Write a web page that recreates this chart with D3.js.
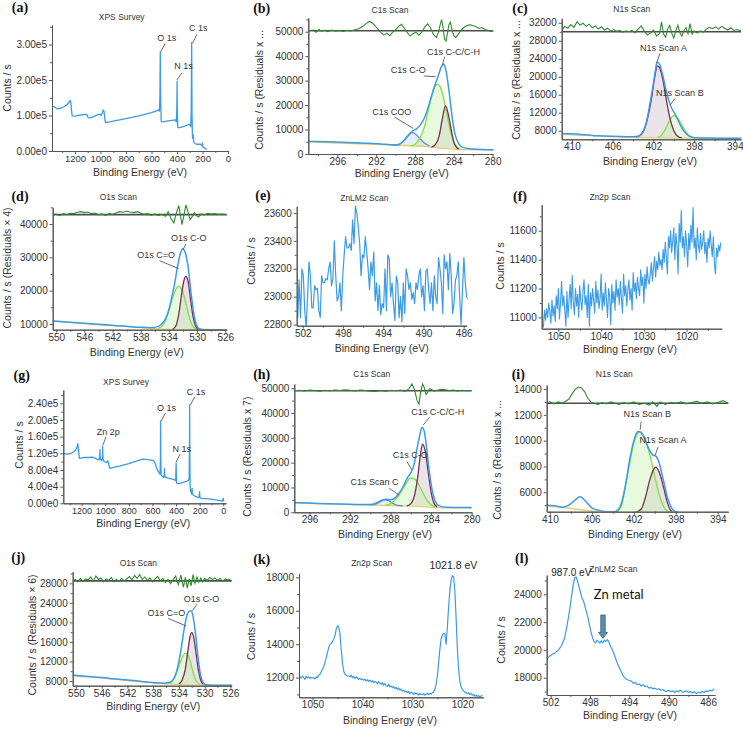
<!DOCTYPE html>
<html>
<head>
<meta charset="utf-8">
<script src="https://cdn.jsdelivr.net/npm/d3@7/dist/d3.min.js"></script>
<style>
body { margin: 0; background: #fff; }
</style>
</head>
<body>
<svg id="fig" width="743" height="729"></svg>
<script>
// ---- survey spectra [binding energy, counts] ----
var surveyA = [[1380,126000],[1360,124000],[1340,119000],[1320,120000],[1300,122000],[1280,126000],[1260,131000],[1245,138000],[1238,143000],[1232,136000],[1228,118000],[1222,99000],[1200,98000],[1180,100000],[1150,102000],[1120,103000],[1105,102000],[1098,95000],[1085,93000],[1060,96000],[1030,101000],[1005,104000],[995,100000],[985,108000],[978,116000],[972,112000],[965,88000],[960,80000],[900,84000],[800,91000],[700,99000],[600,108000],[560,113000],[545,116000],[538,112000],[534,150000],[531,280000],[528,150000],[524,84000],[515,82000],[480,84000],[440,86000],[415,88000],[405,82000],[401,120000],[399,197000],[397,110000],[394,66000],[380,66000],[340,70000],[310,74000],[300,75000],[292,68000],[288,120000],[285,305000],[282,100000],[279,44000],[276,35000],[272,45000],[268,25000],[255,20000],[240,19000],[215,19000],[205,15000],[200,22000],[196,10000],[185,9000],[175,6000],[165,5000]];

var surveyG = [[1355,120000],[1330,118000],[1300,119000],[1270,123000],[1250,128000],[1238,136000],[1232,143000],[1226,125000],[1218,108000],[1200,109000],[1170,110000],[1140,110000],[1110,111000],[1090,109000],[1070,106000],[1052,104000],[1047,112000],[1045,129000],[1043,112000],[1038,104000],[1030,103000],[1024,108000],[1022,138000],[1020,112000],[1015,102000],[1005,100000],[990,98000],[978,102000],[972,97000],[966,88000],[958,84000],[920,87000],[880,89000],[840,92000],[800,95000],[760,99000],[720,103000],[680,106000],[640,105000],[600,103000],[590,102000],[575,95000],[565,85000],[550,76000],[540,72000],[535,70000],[532,120000],[531,198000],[529,110000],[526,68000],[515,64000],[505,62000],[500,70000],[498,84000],[496,66000],[490,62000],[460,60000],[430,58000],[410,56000],[403,54000],[401,80000],[399,97000],[397,60000],[394,48000],[380,47000],[340,50000],[310,53000],[295,55000],[289,60000],[286,150000],[285,236000],[283,110000],[281,40000],[275,28000],[268,22000],[264,36000],[262,25000],[255,20000],[240,17000],[220,15000],[205,14000],[201,28000],[198,14000],[190,12000],[150,11000],[100,10000],[60,8000],[20,6000],[8,5000],[3,10000],[0,12000],[-3,5000]];

// ---- C1s (b) ----
var bEnv = [[299,5200],[297,5000],[295,4700],[293,4400],[291.5,4100],[290.5,3800],[289.8,3700],[289.3,4800],[288.8,7200],[288.3,9300],[287.9,10200],[287.5,11600],[287,15000],[286.5,21000],[286,27500],[285.6,32000],[285.3,35500],[285.05,36800],[284.8,34000],[284.5,26000],[284.2,16000],[283.9,8500],[283.5,4200],[283,2600],[282,2000],[281,1800],[279.8,1700]];
var bBg = [[299,5000],[296,4500],[293,4100],[290,3600],[288,3300],[287,3100],[286,2700],[285,2300],[284,2000],[283,1800],[279.8,1700]];
var bCOO = [[290.3,3600],[289.5,4300],[289,6000],[288.6,7900],[288.3,8700],[288,8300],[287.5,6300],[287,4400],[286.5,3300]];
var bCO = [[288.5,3300],[288,4000],[287.5,6500],[287,11500],[286.6,18500],[286.2,25000],[285.7,28500],[285.3,26500],[284.9,20000],[284.5,12000],[284.1,5800],[283.7,3000],[283.3,2100]];
var bCC = [[286.3,2800],[285.9,3800],[285.5,7500],[285.2,14000],[284.85,19700],[284.5,15000],[284.2,8500],[283.9,3800],[283.5,2000]];
var bResid = [[299,0],[298.5,300],[298.2,-600],[297.9,500],[297.6,-300],[297.3,200],[297,-400],[296.6,300],[296.2,-200],[295.8,100],[295.4,-300],[295,200],[294.6,-100],[294.2,400],[293.8,800],[293.4,1800],[293,3000],[292.7,3800],[292.4,3200],[292.1,2000],[291.8,500],[291.5,-800],[291.2,-1800],[290.9,-1000],[290.6,-2000],[290.3,-600],[290,400],[289.7,1800],[289.4,2600],[289.1,1000],[288.8,-800],[288.5,-2200],[288.2,-1200],[287.9,-600],[287.6,-1800],[287.3,-600],[287,1500],[286.7,2800],[286.4,1200],[286.1,-1500],[285.8,-2800],[285.6,-800],[285.4,2500],[285.25,4600],[285.1,1000],[284.95,-3500],[284.8,-4200],[284.65,-1000],[284.5,2500],[284.35,3500],[284.2,600],[284,-2000],[283.8,-2800],[283.5,-1200],[283.2,400],[282.9,1500],[282.6,2200],[282.3,2400],[282,2000],[281.7,1600],[281.4,900],[281.1,1300],[280.8,500],[280.5,200],[280.2,-300],[279.8,0]];

// ---- N1s (c) ----
var cEnv = [[411,7400],[410,7350],[409,7150],[408,6950],[407,6850],[406,6750],[405,6700],[404,6650],[403.5,6750],[403,7800],[402.6,10800],[402.3,14500],[402,18500],[401.8,21500],[401.65,23200],[401.4,22800],[401.1,20500],[400.8,17500],[400.5,14800],[400.2,13000],[399.9,11800],[399.6,10500],[399.3,9000],[399,7900],[398.6,7000],[398.2,6550],[397.6,6400],[396,6350],[393.4,6300]];
var cBg = [[411,7200],[409,7000],[407,6800],[405,6600],[403.5,6500],[401,6400],[393.4,6300]];
var cA = [[403.7,6600],[403.3,7000],[403,7800],[402.6,10500],[402.2,15000],[401.9,19500],[401.6,22400],[401.3,21500],[401,18500],[400.7,14500],[400.4,11000],[400.1,8600],[399.8,7200],[399.5,6600],[399.2,6400]];
var cB = [[401.6,6450],[401.2,7000],[400.8,8400],[400.4,10300],[400.05,11330],[399.7,11000],[399.3,9700],[398.9,8000],[398.5,6900],[398.1,6400]];
var cResid = [[411,300],[410.7,1200],[410.4,800],[410.1,1600],[409.8,1000],[409.5,2200],[409.2,1500],[408.9,1900],[408.6,1200],[408.3,1700],[408,900],[407.7,1300],[407.4,600],[407.1,1100],[406.8,400],[406.5,800],[406.2,200],[405.9,500],[405.6,100],[405.3,300],[405,-100],[404.7,200],[404.4,0],[404.1,300],[403.8,-200],[403.5,600],[403.2,1300],[402.9,200],[402.6,-700],[402.3,-300],[402,400],[401.7,-900],[401.4,-400],[401.2,2200],[401,-500],[400.8,-1200],[400.6,600],[400.4,1400],[400.2,-300],[400,-1400],[399.8,200],[399.6,1500],[399.4,-200],[399.2,-1000],[399,300],[398.8,900],[398.6,-400],[398.4,1800],[398.2,-500],[398,200],[397.7,-300],[397.4,200],[397.1,-100],[396.8,600],[396.5,1000],[396.2,700],[395.9,1100],[395.6,600],[395.3,1200],[395,800],[394.7,400],[394.4,900],[394.1,300],[393.8,500],[393.4,200]];

// ---- O1s (d) ----
var dEnv = [[550.5,10900],[548,10500],[546,10200],[544,9900],[542,9600],[540,9300],[538,9000],[536.5,8900],[535.5,9300],[534.8,10500],[534.2,13000],[533.7,17000],[533.2,22000],[532.8,27000],[532.4,31000],[532.05,32600],[531.7,31500],[531.3,27500],[530.9,20000],[530.5,13500],[530.1,9800],[529.7,8600],[529.2,8350],[528,8300],[525.8,8300]];
var dBg = [[550.5,10800],[546,10100],[542,9500],[538,8900],[536,8600],[534,8400],[532,8300],[525.8,8300]];
var dCO = [[533.5,8400],[533,9500],[532.6,13000],[532.2,19000],[531.85,23200],[531.6,24300],[531.3,23000],[531,18500],[530.6,12500],[530.2,9300],[529.8,8400]];
var dCdO = [[535.5,8700],[535,9300],[534.5,11000],[534,14000],[533.5,17800],[533,20500],[532.6,21300],[532.2,20500],[531.8,18000],[531.4,14500],[531,11200],[530.5,9000],[530,8400]];
var dResid = [[550.5,0],[550,200],[549.5,-300],[549,300],[548.5,0],[548,400],[547.5,300],[547,700],[546.5,900],[546,600],[545.5,800],[545,300],[544.5,500],[544,0],[543.5,200],[543,-200],[542.5,300],[542,100],[541.5,500],[541,900],[540.5,700],[540,1100],[539.5,800],[539,600],[538.5,900],[538,400],[537.5,100],[537,300],[536.5,-200],[536,200],[535.5,-300],[535,100],[534.5,-500],[534.1,900],[533.7,-1200],[533.3,-2500],[532.95,500],[532.6,2700],[532.4,200],[532.15,-3000],[531.9,-500],[531.6,2900],[531.3,900],[531,-1500],[530.7,-600],[530.4,600],[530.1,-300],[529.8,-700],[529.4,200],[529,-100],[528.5,400],[528,200],[527.5,300],[527,100],[526.5,200],[525.8,0]];

// ---- ZnLM2 (e), Zn2p (f): evenly stepped scans ----
var eStart = 502.5, eStep = 0.14;
var eCounts = [22850,23120,22850,23200,23150,22900,22780,23000,23250,23150,22920,22920,23080,23050,23060,22900,22850,23150,23100,
  23100,23130,23120,23200,23250,23080,23130,23400,23150,22970,23000,23100,22900,23150,23300,23430,23350,
  23350,23380,23330,23550,23380,23650,23600,23500,23380,23150,23300,23280,23430,23320,23200,
  23050,23250,23150,23320,22970,23100,22900,23080,22870,22950,22920,23200,22900,23300,23270,23000,23100,22950,22830,23150,
  23100,22850,23000,22820,23100,22880,23200,23150,23050,23100,22980,23030,22950,23100,23050,23150,23200,23000,23080,22900,23180,23200,23050,22950,23100,
  22900,23150,23000,22950,23280,23200,23100,22880,23300,23200,23250,23050,23310,23150,22880,22950,23120,23150,23250,23000,22800,23050,23280,23100,23000,22980];

var fStart = 1053.5, fStep = 0.25;
var fCounts = [10930,11050,10980,11060,11000,11100,11040,10960,11120,11010,
  11080,10970,11150,11060,11200,10990,11100,11250,11080,11150,
  11050,10940,11180,11000,11120,11230,11060,11290,11100,11020,
  11200,11080,11160,11000,11220,11110,11050,11180,11260,11090,
  11150,11000,11230,10940,11170,11080,11200,11120,11030,11250,
  11100,11190,11060,11130,11300,11050,11170,11080,11240,11120,
  11000,11200,11150,10950,11230,11100,11180,11050,11260,11140,
  11200,11090,11250,11130,11030,11300,11150,11220,11080,11190,
  11260,11120,11200,11050,11310,11180,11240,11130,11280,11200,
  11150,11330,11220,11280,11100,11300,11200,11350,11260,11230,
  11300,11380,11250,11340,11420,11280,11390,11330,11450,11360,
  11400,11330,11470,11380,11520,11420,11300,11560,11480,11600,
  11450,11530,11620,11400,11580,11500,11300,11650,11520,11740,
  11480,11560,11420,11600,11500,11350,11580,11470,11640,11520,
  11760,11480,11550,11400,11620,11500,11450,11580,11470,11520,
  11600,11440,11520,11380,11550,11480,11600,11500,11420,11560,
  11370,11300,11480,11420,11500,11460,11520];

// ---- C1s (h) ----
var hEnv = [[297.5,3900],[296,3700],[294,3400],[292,3200],[290.5,3100],[289.8,3200],[289.3,4000],[288.8,5000],[288.4,5300],[288,5100],[287.6,5700],[287.2,7500],[286.8,10000],[286.4,13500],[286,16000],[285.7,19000],[285.4,25500],[285.1,31500],[284.9,34200],[284.7,33000],[284.45,26000],[284.2,17000],[283.9,9000],[283.6,4500],[283.2,2600],[282.5,2000],[281,1900],[280,1900]];
var hBg = [[297.5,3800],[294,3300],[291,3000],[289,2800],[287,2600],[285.5,2400],[284.5,2200],[283.5,1900],[282,1850],[280,1850]];
var hScanC = [[290,2950],[289.5,3300],[289,4300],[288.6,5000],[288.2,4700],[287.8,3700],[287.3,2800],[286.8,2550]];
var hCO = [[288.5,2800],[288,3500],[287.5,5200],[287,8000],[286.5,11500],[286,13800],[285.6,13300],[285.2,11000],[284.8,7800],[284.4,4800],[284,3000],[283.6,2200]];
var hCC = [[286.4,2600],[286,3500],[285.6,7500],[285.3,15000],[285.05,23500],[284.85,27500],[284.6,25000],[284.3,16500],[284,8000],[283.7,3500],[283.4,2200]];
var hResid = [[297.5,0],[297,200],[296.5,-100],[296,300],[295.5,100],[295,-200],[294.5,200],[294,0],[293.5,300],[293,100],[292.5,400],[292,200],[291.5,-100],[291,300],[290.5,100],[290,-200],[289.5,-300],[289,100],[288.5,-200],[288,200],[287.5,0],[287,300],[286.6,-300],[286.2,700],[285.9,2700],[285.65,600],[285.4,-3800],[285.2,-5400],[285.05,-800],[284.85,2700],[284.7,1500],[284.5,-1500],[284.35,-700],[284.15,800],[283.95,500],[283.7,-200],[283.3,300],[283,600],[282.6,400],[282.2,100],[281.8,300],[281.4,-100],[281,200],[280.5,0],[280,100]];

// ---- N1s (i) ----
var iEnv = [[410.3,5000],[409.5,4950],[408.8,4850],[408.2,5000],[407.6,5400],[407.1,5650],[406.6,5300],[406,4800],[405.3,4600],[404.5,4500],[403.7,4500],[403.2,5000],[402.8,6500],[402.4,8500],[402,10000],[401.6,10700],[401.3,10600],[401,10200],[400.6,9400],[400.2,8900],[399.9,8800],[399.6,8300],[399.2,7000],[398.8,5600],[398.4,4800],[398,4500],[397,4400],[395,4400],[393,4400]];
var iBg = [[410.3,4950],[409,4850],[408,4750],[407,4650],[406,4550],[405,4450],[404,4420],[402,4400],[393,4400]];
var iB = [[404,4420],[403.4,4800],[403,5800],[402.5,7800],[402,9800],[401.6,10600],[401.35,10700],[401,10300],[400.5,9000],[400,7200],[399.5,5600],[399,4700],[398.5,4420]];
var iA = [[402,4400],[401.3,4700],[400.9,5600],[400.5,6900],[400.1,7800],[399.9,7950],[399.6,7600],[399.2,6500],[398.8,5200],[398.4,4500],[398,4400]];
var iResid = [[410.3,0],[410,100],[409.6,-50],[409.2,100],[408.8,0],[408.5,150],[408.2,300],[407.9,700],[407.6,1050],[407.3,1250],[407,1200],[406.7,900],[406.4,400],[406.1,100],[405.8,0],[405.4,-100],[405,50],[404.6,-50],[404.2,100],[403.8,0],[403.4,-100],[403,50],[402.5,-50],[402,100],[401.5,-100],[401,0],[400.5,-150],[400.2,100],[399.8,-250],[399.5,100],[399,-100],[398.5,50],[398,0],[397.5,100],[397,-50],[396.5,50],[396,150],[395.5,0],[395,100],[394.5,-50],[394,50],[393.5,200],[393,0]];

// ---- O1s (j) ----
var jEnv = [[550.5,9200],[548,8900],[546,8700],[544,8450],[542,8200],[540,7950],[538,7700],[536.5,7550],[535.5,7700],[534.8,8500],[534.2,10800],[533.7,14200],[533.2,18500],[532.8,21200],[532.4,22300],[532.1,22400],[531.8,21200],[531.4,17500],[531,12500],[530.6,9000],[530.2,7600],[529.8,7250],[529,7150],[525.8,7150]];
var jBg = [[550.5,9000],[546,8600],[542,8100],[538,7600],[536,7450],[534,7300],[532,7200],[525.8,7150]];
var jCO = [[534,7400],[533.5,8200],[533,10500],[532.6,14200],[532.3,16900],[532,17900],[531.7,17000],[531.4,14300],[531,10500],[530.6,8100],[530.2,7300]];
var jCdO = [[535.5,7500],[535,8000],[534.5,9200],[534,11000],[533.5,12800],[533,13700],[532.6,13300],[532.2,11800],[531.8,9800],[531.3,8000],[530.8,7300]];
var jResid = [[550.5,0],[550.1,300],[549.7,-200],[549.3,500],[548.9,-100],[548.5,400],[548.1,200],[547.7,800],[547.3,-100],[546.9,1000],[546.5,300],[546.1,600],[545.7,-200],[545.3,400],[544.9,100],[544.5,700],[544.1,-200],[543.7,300],[543.3,-100],[542.9,500],[542.5,0],[542.1,400],[541.7,900],[541.3,200],[540.9,1100],[540.5,500],[540.1,1300],[539.7,300],[539.3,800],[538.9,100],[538.5,600],[538.1,-200],[537.7,400],[537.3,900],[536.9,0],[536.5,500],[536.1,-300],[535.7,300],[535.3,-600],[534.9,200],[534.5,1000],[534.1,-800],[533.7,1200],[533.3,-1300],[533,700],[532.7,-1500],[532.4,400],[532.1,-1000],[531.8,1300],[531.5,-500],[531.2,800],[530.9,-300],[530.6,600],[530.3,-200],[530,500],[529.6,100],[529.2,700],[528.8,300],[528.4,600],[528,100],[527.6,500],[527.2,-100],[526.8,400],[526.4,200],[526,300]];

// ---- Zn2p (k) ----
var kStart = 1052.75, kStep = 0.25;
var kCounts = [11950,12050,11980,12100,12000,11900,12080,11990,12050,11950,12020,11980,12000,11930,12050,12010,
  12150,12200,12350,12500,12650,12900,13200,13500,13800,14000,14050,14150,14300,14500,14900,15100,15050,14600,13700,12900,12400,12200,12150,12100,
  12100,12050,12150,12000,12080,11950,12050,11980,11900,11960,11880,11920,
  11850,11900,11800,11880,11780,11850,11750,11820,11700,11780,11720,11650,11760,11680,11600,11700,
  11550,11650,11520,11480,11600,11450,11500,11400,11480,11350,11420,11300,11380,11250,11320,11200,
  11250,11150,11200,11100,11180,11050,11120,11080,11000,11100,11020,11060,10950,11050,11000,10980,
  11050,10950,11000,11080,10980,11060,11000,11100,11150,11300,11600,12100,
  12900,13700,14300,14550,14650,14600,14000,15000,16200,17200,17800,18100,
  18050,17200,15600,13800,12500,11800,11450,11300,11200,11150,11100,11050,
  11100,11000,11050,10950,11000,10900,10950,10880,10920,10850,10900,10950];

// ---- ZnLM2 (l) ----
var lData = [[502.4,19350],[502.1,19550],[501.8,19700],[501.5,19800],[501.2,20000],[500.9,20300],[500.6,20800],[500.4,21500],[500.2,22300],[500,23200],[499.85,24000],[499.7,24700],[499.55,25200],[499.4,25250],[499.25,24900],[499.1,24500],[498.95,24100],[498.8,23700],[498.65,23500],[498.5,23100],[498.35,22700],[498.2,22300],[498.05,21800],[497.9,21300],[497.75,20900],[497.6,20600],[497.45,20500],[497.3,20700],[497.15,20600],[497,20500],[496.85,20650],[496.7,20500],[496.55,20700],[496.4,20600],[496.25,20750],[496.1,20600],[495.95,20300],[495.8,20100],[495.6,19800],[495.4,19400],[495.2,19000],[495,18700],[494.8,18400],[494.6,18100],[494.4,17950],[494.2,17850],[494,17800],[493.8,17750],[493.6,17600],[493.4,17650],[493.2,17500],[493,17550],[492.8,17400],[492.6,17500],[492.4,17350],[492.2,17400],[492,17250],[491.8,17300],[491.6,17200],[491.4,17250],[491.2,17150],[491,17200],[490.8,17100],[490.6,17150],[490.4,17050],[490.2,17000],[490,17100],[489.8,17000],[489.6,17050],[489.4,16950],[489.2,17050],[489,17000],[488.8,17100],[488.6,16950],[488.4,17000],[488.2,17050],[488,16950],[487.8,17000],[487.6,16900],[487.4,17000],[487.2,16850],[487,16950],[486.8,16900],[486.6,17000],[486.4,16950],[486.2,17050],[486,17000],[485.8,17100],[485.6,17050],[485.4,17200]];

var FONT = "'Liberation Sans', Arial, sans-serif";
var BLUE = "#3a9be8", RES = "#2f8a2f", BASE = "#4d4d4d", YEL = "#e3cf6e",
    GRN = "#86e04a", PUR = "#7b2d55", CBLUE = "#5b86d6",
    GRN_F = "rgba(190,240,160,0.35)", PUR_F = "rgba(160,130,160,0.22)", BLU_F = "rgba(140,170,230,0.2)";

function steps(start, step, vals) {
    return vals.map((v, i) => [start - step * i, v]);
}

var svg = d3.select("#fig");

function minorOf(ticks, dom) {
    var st = ticks[1] - ticks[0], lo = Math.min(dom[0], dom[1]), hi = Math.max(dom[0], dom[1]);
    var out = [];
    ticks.forEach(t => { [t - st / 2, t + st / 2].forEach(m => { if (m >= lo && m <= hi && out.indexOf(m) < 0) out.push(m); }); });
    return out;
}

function styleAxis(a, size) {
    a.attr("font-family", FONT).attr("font-size", size);
    a.selectAll(".domain").attr("stroke", "#555");
    a.selectAll(".tick line").attr("stroke", "#555");
    a.selectAll(".tick text").attr("fill", "#333");
}

function drawPanel(p) {
    var b = p.box;
    var x = d3.scaleLinear().domain(p.xDomain).range([b[0], b[2]]);
    var y = d3.scaleLinear().domain(p.yDomain).range([b[3], b[1]]);
    var g = svg.append("g");

    svg.append("clipPath").attr("id", "clip" + p.key)
        .append("rect").attr("x", b[0]).attr("y", b[1] - 6)
        .attr("width", b[2] - b[0] + 1).attr("height", b[3] - b[1] + 6);
    var plot = g.append("g").attr("clip-path", "url(#clip" + p.key + ")");

    var smooth = d3.line().x(d => x(d[0])).y(d => y(d[1])).curve(d3.curveMonotoneX);
    var raw = d3.line().x(d => x(d[0])).y(d => y(d[1]));

    (p.fills || []).forEach(f => {
        plot.append("path").attr("d", smooth(f.data) + "Z").attr("fill", f.color).attr("stroke", "none");
    });
    (p.lines || []).forEach(l => {
        plot.append("path").attr("d", (l.raw ? raw : smooth)(l.data))
            .attr("fill", "none").attr("stroke", l.color).attr("stroke-width", l.w || 1.2)
            .attr("stroke-linejoin", "round");
    });
    if (p.resid) {
        plot.append("line").attr("x1", b[0]).attr("x2", b[2])
            .attr("y1", y(p.resid.base)).attr("y2", y(p.resid.base))
            .attr("stroke", BASE).attr("stroke-width", 1.6);
        plot.append("path").attr("d", raw(p.resid.data.map(d => [d[0], p.resid.base + d[1]])))
            .attr("fill", "none").attr("stroke", RES).attr("stroke-width", 1.1);
    }

    // axes
    var xm = g.append("g").attr("transform", "translate(0," + b[3] + ")")
        .call(d3.axisBottom(x).tickValues(minorOf(p.xTicks, p.xDomain)).tickSize(2).tickSizeOuter(0).tickFormat(""));
    var ym = g.append("g").attr("transform", "translate(" + b[0] + ",0)")
        .call(d3.axisLeft(y).tickValues(minorOf(p.yTicks, p.yDomain)).tickSize(2).tickSizeOuter(0).tickFormat(""));
    var xa = g.append("g").attr("transform", "translate(0," + b[3] + ")")
        .call(d3.axisBottom(x).tickValues(p.xTicks).tickSize(3).tickSizeOuter(0).tickPadding(1).tickFormat(d3.format("d")));
    var yf = p.exp ? (v => d3.format(".2e")(v).replace("e+", "e")) : d3.format("d");
    var ya = g.append("g").attr("transform", "translate(" + b[0] + ",0)")
        .call(d3.axisLeft(y).tickValues(p.yTicks).tickSize(3).tickSizeOuter(0).tickPadding(2).tickFormat(yf));
    styleAxis(xm, 10); styleAxis(ym, 10);
    styleAxis(xa, p.xFont || 10); styleAxis(ya, 10);

    // texts
    g.append("text").attr("x", p.lp[0]).attr("y", p.lp[1]).attr("text-anchor", "middle")
        .style("font-family", "'Liberation Serif', 'Times New Roman', serif").style("font-weight", "bold")
        .style("font-size", "14px").attr("fill", "#111").text(p.letter);
    g.append("text").attr("x", p.tp[0]).attr("y", p.tp[1]).attr("text-anchor", "middle")
        .attr("dominant-baseline", "middle").style("font-family", FONT).style("font-size", "8.5px")
        .attr("fill", "#333").text(p.title);
    g.append("text").attr("transform", "translate(" + p.ylp[0] + "," + p.ylp[1] + ") rotate(-90)")
        .attr("text-anchor", "middle").attr("dominant-baseline", "middle")
        .style("font-family", FONT).style("font-size", "10.5px").attr("fill", "#333").text(p.yLabel);
    g.append("text").attr("x", p.xlp[0]).attr("y", p.xlp[1]).attr("text-anchor", "middle")
        .attr("dominant-baseline", "middle").style("font-family", FONT).style("font-size", "10.5px")
        .attr("fill", "#333").text("Binding Energy (eV)");

    (p.notes || []).forEach(n => {
        if (n.line) {
            g.append("line").attr("x1", x(n.line[0][0])).attr("y1", y(n.line[0][1]))
                .attr("x2", x(n.line[1][0])).attr("y2", y(n.line[1][1]))
                .attr("stroke", "#444").attr("stroke-width", 0.8);
        }
        g.append("text").attr("x", x(n.x)).attr("y", y(n.y)).attr("text-anchor", "middle")
            .attr("dominant-baseline", "middle").style("font-family", n.font || FONT)
            .style("font-size", (n.size || 9) + "px").attr("fill", n.color || "#333").text(n.t);
    });
    if (p.arrow) {
        var a = p.arrow, ax = x(a.x), y1 = y(a.from), y2 = y(a.to);
        var pts = [[ax - 2.2, y1], [ax + 2.2, y1], [ax + 2.2, y2 - 6], [ax + 4.5, y2 - 6], [ax, y2], [ax - 4.5, y2 - 6], [ax - 2.2, y2 - 6]];
        g.append("polygon").attr("points", pts.map(q => q.join(",")).join(" "))
            .attr("fill", "#5a8fb3").attr("stroke", "#2e5d7d").attr("stroke-width", 0.8);
    }
}

var RESX = "Counts / s  (Residuals x ...";
var panels = [
    { key: "a", letter: "(a)", lp: [20, 12], box: [52, 25, 228, 151], xDomain: [1380, 0], yDomain: [0, 355000],
      xTicks: [1200, 1000, 800, 600, 400, 200, 0], yTicks: [0, 100000, 200000, 300000], exp: true, xFont: 9.5,
      title: "XPS Survey", tp: [121.7, 17.3], yLabel: "Counts / s", ylp: [8, 88], xlp: [140, 173],
      lines: [{ data: surveyA, color: BLUE, w: 1.3, raw: true }],
      notes: [{ t: "O 1s", x: 480, y: 318000, line: [[527, 280000], [493, 303000]] },
              { t: "C 1s", x: 233, y: 344000, line: [[278, 303000], [244, 329000]] },
              { t: "N 1s", x: 349, y: 237000, line: [[401, 200000], [362, 220000]] }] },
    { key: "b", letter: "(b)", lp: [261.7, 13], box: [308.3, 18, 492.6, 154], xDomain: [299, 280], yDomain: [0, 55600],
      xTicks: [296, 292, 288, 284, 280], yTicks: [0, 10000, 20000, 30000, 40000, 50000],
      title: "C1s Scan", tp: [390, 10.7], yLabel: RESX, ylp: [260, 90], xlp: [401.7, 174],
      fills: [{ data: bCC, color: PUR_F }, { data: bCO, color: GRN_F }, { data: bCOO, color: BLU_F }],
      lines: [{ data: bBg, color: YEL, w: 1.4 }, { data: bCOO, color: CBLUE }, { data: bCO, color: GRN, w: 1.4 },
              { data: bCC, color: PUR, w: 1.3 }, { data: bEnv, color: BLUE, w: 1.5 }],
      resid: { base: 50400, data: bResid },
      notes: [{ t: "C1s C-C/C-H", x: 284.03, y: 41600, line: [[285.18, 36400], [284.94, 39800]] },
              { t: "C1s C-O", x: 288.7, y: 33900, line: [[287.1, 31900], [285.87, 31600]] },
              { t: "C1s COO", x: 290.4, y: 17000, line: [[290.1, 15100], [288.2, 10500]] }] },
    { key: "c", letter: "(c)", lp: [520, 13], box: [561.7, 18.3, 741, 139.3], xDomain: [411, 393.4], yDomain: [6090, 33000],
      xTicks: [410, 406, 402, 398, 394], yTicks: [8000, 12000, 16000, 20000, 24000, 28000, 32000],
      title: "N1s Scan", tp: [631.7, 9.3], yLabel: RESX, ylp: [517.7, 80], xlp: [650, 162.3],
      fills: [{ data: cA, color: PUR_F }, { data: cB, color: GRN_F }],
      lines: [{ data: cBg, color: YEL, w: 1.4 }, { data: cB, color: GRN, w: 1.4 }, { data: cA, color: PUR, w: 1.3 },
              { data: cEnv, color: BLUE, w: 1.5 }],
      resid: { base: 30000, data: cResid },
      notes: [{ t: "N1s Scan A", x: 401.0, y: 26300, line: [[401.35, 25200], [401.67, 23200]] },
              { t: "N1s Scan B", x: 399.4, y: 16150, line: [[399.87, 15200], [400.36, 13700]] }] },
    { key: "d", letter: "(d)", lp: [20, 201], box: [52.7, 207.3, 226.7, 329.7], xDomain: [550.5, 525.8], yDomain: [8290, 45000],
      xTicks: [550, 546, 542, 538, 534, 530, 526], yTicks: [10000, 20000, 30000, 40000],
      title: "O1s Scan", tp: [118.3, 198], yLabel: "Counts / s  (Residuals × 4)", ylp: [8.3, 268], xlp: [136.7, 353],
      fills: [{ data: dCO, color: PUR_F }, { data: dCdO, color: GRN_F }],
      lines: [{ data: dBg, color: YEL, w: 1.4 }, { data: dCdO, color: GRN, w: 1.4 }, { data: dCO, color: PUR, w: 1.3 },
              { data: dEnv, color: BLUE, w: 1.5 }],
      resid: { base: 42800, data: dResid },
      notes: [{ t: "O1s C-O", x: 531.2, y: 35500, line: [[532.0, 32300], [531.58, 34000]] },
              { t: "O1s C=O", x: 535.8, y: 30600, line: [[535.33, 29000], [532.63, 26600]] }] },
    { key: "e", letter: "(e)", lp: [263, 200], box: [296.7, 206.3, 466.7, 325.7], xDomain: [502.6, 485.7], yDomain: [22792, 23648],
      xTicks: [502, 498, 494, 490, 486], yTicks: [22800, 23000, 23200, 23400, 23600],
      title: "ZnLM2 Scan", tp: [364.3, 198.7], yLabel: "Counts / s", ylp: [252.3, 261], xlp: [381.7, 349.7],
      lines: [{ data: steps(eStart, eStep, eCounts), color: BLUE, w: 1.2, raw: true }] },
    { key: "f", letter: "(f)", lp: [520, 201], box: [541.7, 204.7, 721.7, 328.7], xDomain: [1053.9, 1011.8], yDomain: [10922, 11780],
      xTicks: [1050, 1040, 1030, 1020], yTicks: [11000, 11200, 11400, 11600],
      title: "Zn2p Scan", tp: [610, 198], yLabel: "Counts / s", ylp: [501, 266], xlp: [630, 350.7],
      lines: [{ data: steps(fStart, fStep, fCounts), color: BLUE, w: 1.1, raw: true }] },
    { key: "g", letter: "(g)", lp: [21.7, 380], box: [63.3, 390, 226, 503.3], xDomain: [1355, -23], yDomain: [0, 272000],
      xTicks: [1200, 1000, 800, 600, 400, 200, 0], yTicks: [0, 40000, 80000, 120000, 160000, 200000, 240000], exp: true, xFont: 9,
      title: "XPS Survey", tp: [126, 382.7], yLabel: "Counts / s", ylp: [20, 445], xlp: [143.3, 524],
      lines: [{ data: surveyG, color: BLUE, w: 1.3, raw: true }],
      notes: [{ t: "C 1s", x: 231, y: 266000, line: [[278, 236000], [242, 256000]] },
              { t: "O 1s", x: 480, y: 228000, line: [[525, 197500], [491, 216700]] },
              { t: "Zn 2p", x: 975, y: 169000, line: [[1019, 140000], [994, 159000]] },
              { t: "N 1s", x: 352, y: 129600, line: [[399, 99000], [367, 118000]] }] },
    { key: "h", letter: "(h)", lp: [261.7, 379], box: [294.3, 384, 471.7, 512.3], xDomain: [297.5, 280], yDomain: [0, 51700],
      xTicks: [296, 292, 288, 284, 280], yTicks: [0, 10000, 20000, 30000, 40000, 50000],
      title: "C1s Scan", tp: [371.7, 375], yLabel: "Counts / s  (Residuals x 7)", ylp: [248.3, 456.7], xlp: [385, 535],
      fills: [{ data: hCC, color: PUR_F }, { data: hCO, color: GRN_F }, { data: hScanC, color: BLU_F }],
      lines: [{ data: hBg, color: YEL, w: 1.4 }, { data: hScanC, color: CBLUE }, { data: hCO, color: GRN, w: 1.4 },
              { data: hCC, color: PUR, w: 1.3 }, { data: hEnv, color: BLUE, w: 1.5 }],
      resid: { base: 49000, data: hResid },
      notes: [{ t: "C1s C-C/C-H", x: 283.34, y: 40300, line: [[284.14, 38300], [284.78, 35200]] },
              { t: "C1s C-O", x: 286.07, y: 22800, line: [[286.38, 20400], [285.9, 17100]] },
              { t: "C1s Scan C", x: 289.59, y: 12100, line: [[288.14, 9700], [287.18, 7000]] }] },
    { key: "i", letter: "(i)", lp: [518.3, 379], box: [546.7, 385, 728.3, 511.7], xDomain: [410.3, 393], yDomain: [4496, 14310],
      xTicks: [410, 406, 402, 398, 394], yTicks: [6000, 8000, 10000, 12000, 14000],
      title: "N1s Scan", tp: [614.3, 375], yLabel: RESX, ylp: [498, 460], xlp: [635, 535],
      fills: [{ data: iA, color: PUR_F }, { data: iB, color: GRN_F }],
      lines: [{ data: iBg, color: YEL, w: 1.4 }, { data: iB, color: GRN, w: 1.4 }, { data: iA, color: PUR, w: 1.3 },
              { data: iEnv, color: BLUE, w: 1.5 }],
      resid: { base: 12900, data: iResid },
      notes: [{ t: "N1s Scan B", x: 400.72, y: 11990, line: [[401.3, 11470], [401.4, 10830]] },
              { t: "N1s Scan A", x: 399.23, y: 10000, line: [[399.7, 9490], [399.96, 8890]] }] },
    { key: "j", letter: "(j)", lp: [18.3, 561.5], box: [72.7, 571.7, 231.7, 685.7], xDomain: [550.5, 525.8], yDomain: [7036, 30380],
      xTicks: [550, 546, 542, 538, 534, 530, 526], yTicks: [8000, 12000, 16000, 20000, 24000, 28000],
      title: "O1s Scan", tp: [138.3, 564], yLabel: "Counts / s  (Residuals × 6)", ylp: [33.3, 635], xlp: [153.3, 707.5],
      fills: [{ data: jCO, color: PUR_F }, { data: jCdO, color: GRN_F }],
      lines: [{ data: jBg, color: YEL, w: 1.4 }, { data: jCdO, color: GRN, w: 1.4 }, { data: jCO, color: PUR, w: 1.3 },
              { data: jEnv, color: BLUE, w: 1.5 }],
      resid: { base: 28500, data: jResid },
      notes: [{ t: "O1s C-O", x: 530.5, y: 24700, line: [[531.19, 23750], [531.9, 22380]] },
              { t: "O1s C=O", x: 535.94, y: 21850, line: [[535.7, 20820], [532.84, 19240]] }] },
    { key: "k", letter: "(k)", lp: [261.7, 564], box: [299, 573.3, 483.3, 697.3], xDomain: [1052.7, 1015.8], yDomain: [10826, 18240],
      xTicks: [1050, 1040, 1030, 1020], yTicks: [12000, 14000, 16000, 18000],
      title: "Zn2p Scan", tp: [371.7, 564], yLabel: "Counts / s", ylp: [252.3, 636.7], xlp: [390, 721],
      lines: [{ data: steps(kStart, kStep, kCounts), color: BLUE, w: 1.2, raw: true }],
      notes: [{ t: "1021.8 eV", x: 1021.8, y: 18690, size: 10.5, color: "#222" }] },
    { key: "l", letter: "(l)", lp: [521.7, 563], box: [546.7, 575, 715, 695], xDomain: [502.4, 485.3], yDomain: [16755, 25390],
      xTicks: [502, 498, 494, 490, 486], yTicks: [18000, 20000, 22000, 24000],
      title: "ZnLM2 Scan", tp: [613.3, 569.3], yLabel: "Counts / s", ylp: [502.3, 640], xlp: [630, 716.7],
      lines: [{ data: lData, color: BLUE, w: 1.2, raw: true }],
      notes: [{ t: "987.0 eV", x: 499.9, y: 25510, size: 10, color: "#222" },
              { t: "Zn metal", x: 495.08, y: 23930, size: 13, color: "#111", font: "Lato, 'Liberation Sans', sans-serif" }],
      arrow: { x: 496.68, from: 22510, to: 20830 } }
];

panels.forEach(drawPanel);
</script>
</body>
</html>
